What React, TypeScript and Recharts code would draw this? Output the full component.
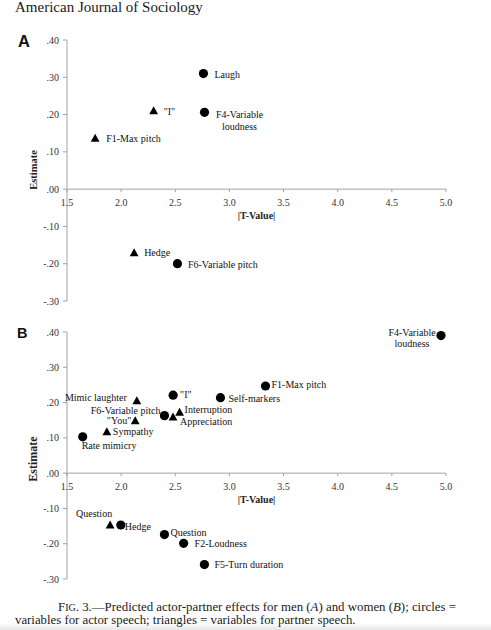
import React from 'react';
import { ScatterChart, Scatter, XAxis, YAxis, ReferenceLine, Label } from 'recharts';

// ---------- DATA ----------
const xTicks = [1.5, 2.0, 2.5, 3.0, 3.5, 4.0, 4.5, 5.0];
const yTicks = [-0.3, -0.2, -0.1, 0, 0.1, 0.2, 0.3, 0.4];

// Panel A (men)
const menActor = [
  { name: 'Laugh', t: 2.76, est: 0.31 },
  { name: 'F4-Variable\nloudness', t: 2.77, est: 0.206 },
  { name: 'F6-Variable pitch', t: 2.52, est: -0.2 },
];
const menPartner = [
  { name: '"I"', t: 2.3, est: 0.21 },
  { name: 'F1-Max pitch', t: 1.76, est: 0.136 },
  { name: 'Hedge', t: 2.12, est: -0.171 },
];

// Panel B (women)
const womenActor = [
  { name: 'Rate mimicry', t: 1.645, est: 0.103 },
  { name: 'F6-Variable pitch', t: 2.4, est: 0.163 },
  { name: '"I"', t: 2.48, est: 0.221 },
  { name: 'Self-markers', t: 2.917, est: 0.214 },
  { name: 'F1-Max pitch', t: 3.333, est: 0.247 },
  { name: 'F4-Variable\nloudness', t: 4.954, est: 0.39 },
  { name: 'Hedge', t: 1.997, est: -0.147 },
  { name: 'Question', t: 2.4, est: -0.174 },
  { name: 'F2-Loudness', t: 2.577, est: -0.199 },
  { name: 'F5-Turn duration', t: 2.769, est: -0.259 },
];
const womenPartner = [
  { name: 'Sympathy', t: 1.868, est: 0.117 },
  { name: '"You"', t: 2.13, est: 0.148 },
  { name: 'Mimic laughter', t: 2.145, est: 0.205 },
  { name: 'Appreciation', t: 2.479, est: 0.159 },
  { name: 'Interruption', t: 2.54, est: 0.172 },
  { name: 'Question', t: 1.898, est: -0.147 },
];

// ---------- LABEL PLACEMENT (styling, not data) ----------
type Place = { dx: number; dy: number; anchor?: 'start' | 'middle' | 'end'; lh?: number };
const placeMenActor: Record<string, Place> = {
  'Laugh': { dx: 11, dy: 1 },
  'F4-Variable\nloudness': { dx: 35, dy: 2, anchor: 'middle', lh: 12 },
  'F6-Variable pitch': { dx: 10.5, dy: 0.5 },
};
const placeMenPartner: Record<string, Place> = {
  '"I"': { dx: 10, dy: 1 },
  'F1-Max pitch': { dx: 11, dy: 0 },
  'Hedge': { dx: 10, dy: 0 },
};
const placeWomenActor: Record<string, Place> = {
  'Rate mimicry': { dx: -1, dy: 9 },
  'F6-Variable pitch': { dx: -4, dy: -5, anchor: 'end' },
  '"I"': { dx: 7, dy: -1 },
  'Self-markers': { dx: 8, dy: 1 },
  'F1-Max pitch': { dx: 6, dy: -1 },
  'F4-Variable\nloudness': { dx: -29, dy: -3, anchor: 'middle', lh: 11 },
  'Hedge': { dx: 4, dy: 1 },
  'Question': { dx: 6, dy: -2 },
  'F2-Loudness': { dx: 11, dy: 0 },
  'F5-Turn duration': { dx: 10, dy: 0 },
};
const placeWomenPartner: Record<string, Place> = {
  'Sympathy': { dx: 6, dy: 0 },
  '"You"': { dx: -4, dy: 0, anchor: 'end' },
  'Mimic laughter': { dx: -10, dy: -3, anchor: 'end' },
  'Appreciation': { dx: 7, dy: 4 },
  'Interruption': { dx: 5, dy: -3 },
  'Question': { dx: -16, dy: -12, anchor: 'middle' },
};

const SERIF = '"Liberation Serif", "Times New Roman", serif';
const SANS = '"Liberation Sans", Arial, sans-serif';
const AXIS = '#a3a3a3';

const makeShape = (kind: 'circle' | 'triangle', places: Record<string, Place>) => (props: any) => {
  const { cx, cy, payload } = props;
  if (cx == null || cy == null) return <g />;
  const p = places[payload.name] || { dx: 8, dy: 0 };
  const lines = String(payload.name).split('\n');
  const lh = p.lh || 11;
  return (
    <g>
      {kind === 'circle' ? (
        <circle cx={cx} cy={cy} r={4.6} fill="#000" />
      ) : (
        <polygon points={`${cx},${cy - 4.6} ${cx - 4.4},${cy + 3.4} ${cx + 4.4},${cy + 3.4}`} fill="#000" />
      )}
      {lines.map((ln, i) => (
        <text
          key={i}
          x={cx + p.dx}
          y={cy + p.dy + i * lh}
          textAnchor={p.anchor || 'start'}
          dominantBaseline="central"
          fontFamily={SERIF}
          fontSize={10}
          fill="#111"
        >
          {ln}
        </text>
      ))}
    </g>
  );
};

const fmtY = (v: number) => {
  const s = Math.abs(v).toFixed(2).replace(/^0/, '');
  return (v < -1e-9 ? '-' : '') + s;
};

type PanelProps = {
  top: number;
  height: number;
  mTop: number;
  mBottom: number;
  actor: any[];
  partner: any[];
  placeActor: Record<string, Place>;
  placePartner: Record<string, Place>;
  estFont: number;
  estFrac: number;
};

const Panel = ({ top, height, mTop, mBottom, actor, partner, placeActor, placePartner, estFont, estFrac }: PanelProps) => {
  const xAxisH = 1;
  const plotH = height - mTop - mBottom - xAxisH;
  const zeroY = mTop + (plotH * 0.4) / 0.7;
  const renderXTick = (props: any) => {
    const { x, payload } = props;
    return (
      <g>
        <line x1={x} x2={x} y1={zeroY} y2={zeroY + 3} stroke={AXIS} />
        <text x={x} y={zeroY + 13} textAnchor="middle" dominantBaseline="central" fontFamily={SERIF} fontSize={10} fill="#333">
          {Number(payload.value).toFixed(1)}
        </text>
      </g>
    );
  };
  return (
    <div style={{ position: 'absolute', left: 0, top }}>
      <ScatterChart width={491} height={height} margin={{ top: mTop, right: 45, bottom: mBottom, left: 0 }}>
        <XAxis
          type="number"
          dataKey="t"
          domain={[1.5, 5]}
          ticks={xTicks}
          height={xAxisH}
          axisLine={false}
          tickLine={false}
          tick={renderXTick}
          interval={0}
        >
          <Label
            content={(lp: any) => {
              const vb = lp.viewBox || {};
              const cx = (vb.x ?? 67) + (vb.width ?? 379) / 2;
              return (
                <text x={cx} y={zeroY + 26} textAnchor="middle" dominantBaseline="central" fontFamily={SERIF} fontWeight="bold" fontSize={10} fill="#222">
                  |T-Value|
                </text>
              );
            }}
          />
        </XAxis>
        <YAxis
          type="number"
          dataKey="est"
          domain={[-0.3, 0.4]}
          ticks={yTicks}
          width={67}
          interval={0}
          tickFormatter={fmtY}
          tickSize={4}
          tickMargin={4}
          axisLine={{ stroke: AXIS }}
          tickLine={{ stroke: AXIS }}
          tick={{ fontFamily: SERIF, fontSize: 10, fill: '#333' }}
        >
          <Label
            content={() => (
              <text
                x={33}
                y={mTop + plotH * estFrac}
                transform={`rotate(-90 33 ${mTop + plotH * estFrac})`}
                textAnchor="middle"
                dominantBaseline="central"
                fontFamily={SERIF}
                fontWeight="bold"
                fontSize={estFont}
                fill="#222"
              >
                Estimate
              </text>
            )}
          />
        </YAxis>
        <ReferenceLine y={0} stroke={AXIS} strokeWidth={1} />
        <Scatter data={actor} isAnimationActive={false} shape={makeShape('circle', placeActor)} />
        <Scatter data={partner} isAnimationActive={false} shape={makeShape('triangle', placePartner)} />
      </ScatterChart>
    </div>
  );
};

export default function App() {
  return (
    <div style={{ position: 'absolute', left: 0, top: 0, width: 491, height: 630, background: '#fff', overflow: 'hidden' }}>
      <Panel
        top={0}
        height={310}
        mTop={40}
        mBottom={8}
        actor={menActor}
        partner={menPartner}
        placeActor={placeMenActor}
        placePartner={placeMenPartner}
        estFont={10.5}
        estFrac={130 / 261}
      />
      <Panel
        top={290}
        height={300}
        mTop={42}
        mBottom={10}
        actor={womenActor}
        partner={womenPartner}
        placeActor={placeWomenActor}
        placePartner={placeWomenPartner}
        estFont={12}
        estFrac={127 / 247}
      />
      <svg width={491} height={630} style={{ position: 'absolute', left: 0, top: 0, pointerEvents: 'none' }}>
        <defs>
          <linearGradient id="band" x1="0" y1="0" x2="0" y2="1">
            <stop offset="0" stopColor="#ffffff" />
            <stop offset="1" stopColor="#e6e6e6" />
          </linearGradient>
        </defs>
        <rect x={0} y={623} width={491} height={7} fill="url(#band)" />
        <text x={15} y={11.5} fontFamily={SERIF} fontSize={15} fill="#1a1a1a">
          American Journal of Sociology
        </text>
        <text x={18} y={47} fontFamily={SANS} fontWeight="bold" fontSize={16.5} fill="#111">A</text>
        <text x={17} y={338} fontFamily={SANS} fontWeight="bold" fontSize={14.5} fill="#111">B</text>
        <text x={58} y={611} fontFamily={SERIF} fontSize={12.85} fill="#1a1a1a">
          <tspan>F</tspan>
          <tspan fontSize={10}>IG</tspan>
          <tspan>{'. 3.—Predicted actor-partner effects for men ('}</tspan>
          <tspan fontStyle="italic">A</tspan>
          <tspan>{') and women ('}</tspan>
          <tspan fontStyle="italic">B</tspan>
          <tspan>{'); circles ='}</tspan>
        </text>
        <text x={15} y={624} fontFamily={SERIF} fontSize={12.8} fill="#1a1a1a">
          variables for actor speech; triangles = variables for partner speech.
        </text>
      </svg>
    </div>
  );
}
